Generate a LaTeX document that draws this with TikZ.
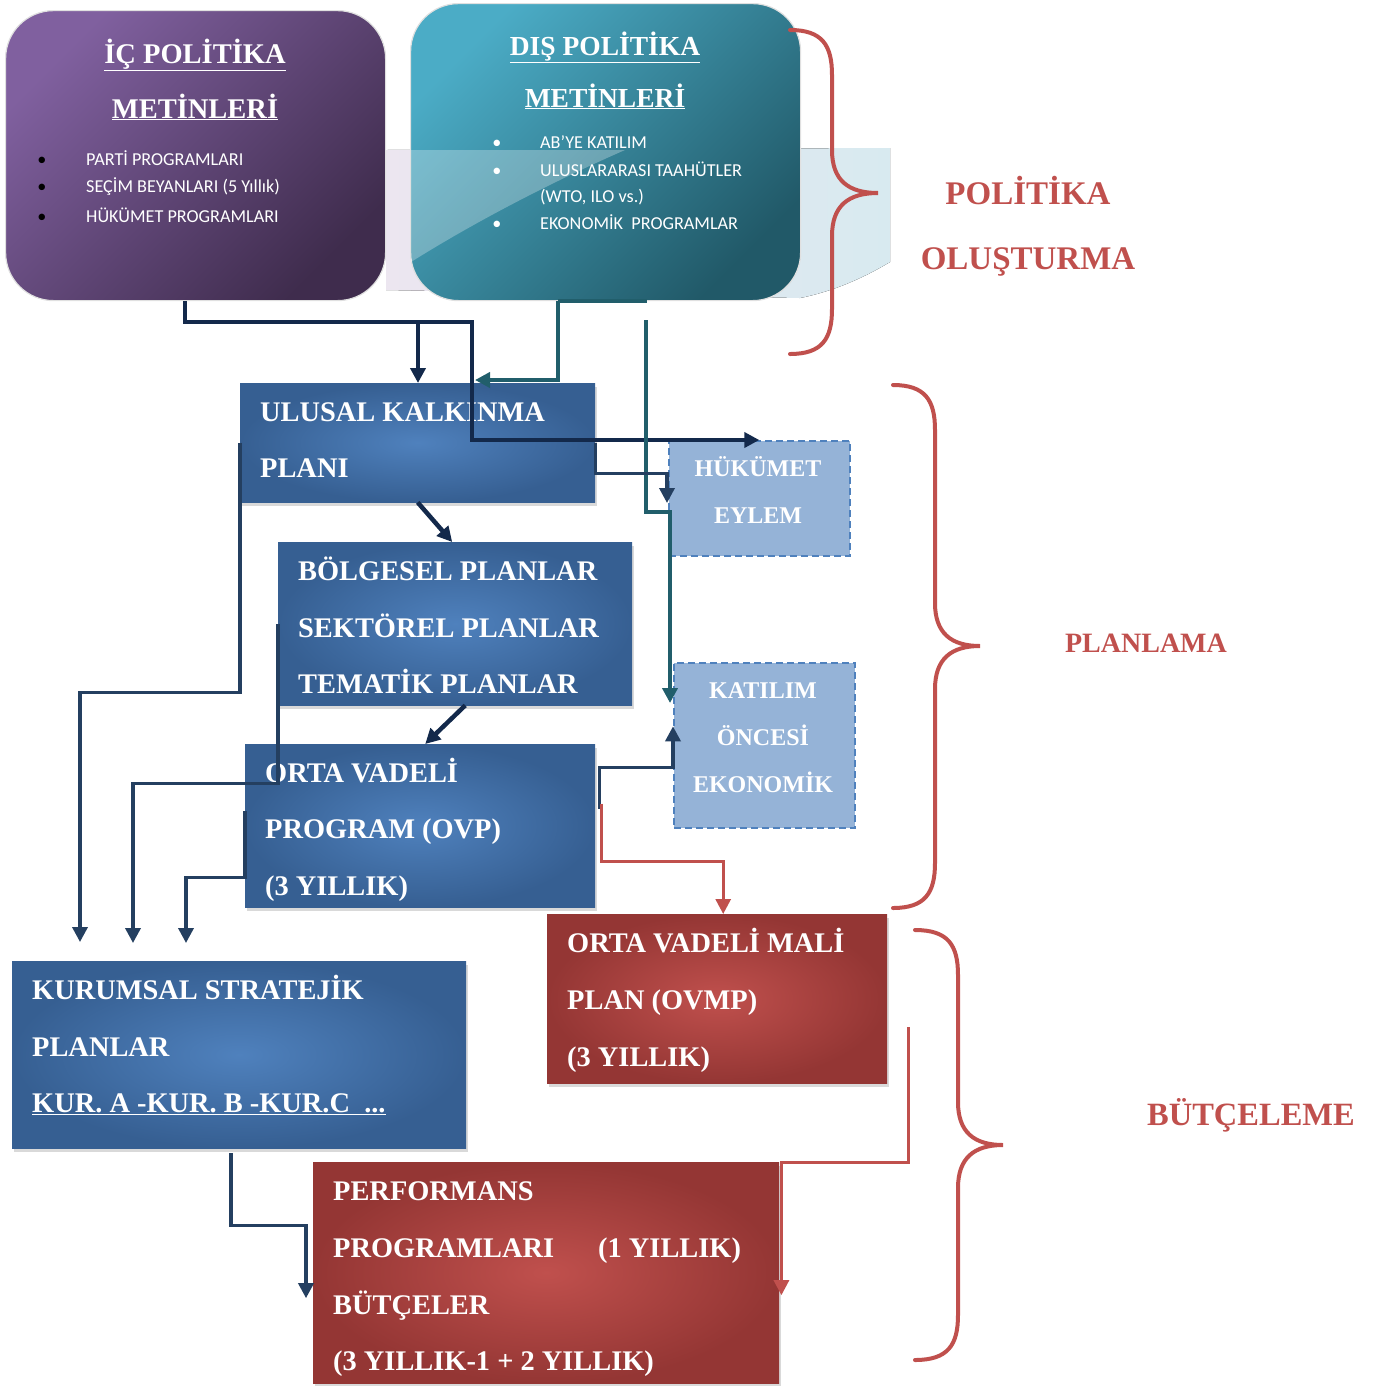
\documentclass[tikz,border=0pt]{standalone}
\usepackage{fontspec}
\setmainfont{Liberation Serif}
\newfontfamily\listfont{Carlito}
\usetikzlibrary{arrows.meta,shadows}

\definecolor{darknavy}{HTML}{13294B}
\definecolor{navy}{HTML}{243F60}
\definecolor{tealline}{HTML}{215E6B}
\definecolor{redline}{HTML}{C0504D}
\definecolor{blueedge}{HTML}{365F92}
\definecolor{bluecentre}{HTML}{4F81BD}
\definecolor{rededge}{HTML}{943634}
\definecolor{redcentre}{HTML}{C0504D}
\definecolor{notefill}{HTML}{95B3D7}
\definecolor{noteline}{HTML}{4F81BD}
\definecolor{purplelight}{HTML}{80609F}
\definecolor{purpledark}{HTML}{3F2C4D}
\definecolor{teallight}{HTML}{4BACC6}
\definecolor{tealdark}{HTML}{215968}
\definecolor{bandlav}{HTML}{ECE6F0}
\definecolor{bandblue}{HTML}{D8EAF0}

\tikzset{
  box/.style={rectangle,inner sep=0pt,anchor=north west,
    drop shadow={opacity=.3,shadow xshift=2pt,shadow yshift=-4pt}},
  bluebox/.style={box,inner color=bluecentre,outer color=blueedge},
  redbox/.style={box,inner color=redcentre,outer color=rededge},
  notebox/.style={rectangle,inner sep=0pt,anchor=north west,fill=notefill,
    draw=noteline,line width=1.6pt,dash pattern=on 7pt off 4pt},
  roundbox/.style={rectangle,inner sep=0pt,anchor=north west,rounded corners=48pt,
    draw=white!88!black,line width=1.2pt},
  boxtext/.style={anchor=base west,inner sep=0pt,text=white,
    font=\fontsize{28.4}{28.4}\selectfont\bfseries},
  notetext/.style={anchor=base,inner sep=0pt,text=white,
    font=\fontsize{24}{24}\selectfont\bfseries},
  headtext/.style={anchor=base,inner sep=0pt,text=white,
    font=\fontsize{27.5}{27.5}\selectfont\bfseries},
  listtext/.style={anchor=base west,inner sep=0pt,text=white,
    font=\listfont\fontsize{18.2}{18.2}\selectfont},
  stagetext/.style={anchor=base,inner sep=0pt,text=redline,
    font=\fontsize{33}{33}\selectfont\bfseries},
  arrowed/.style={-{Triangle[width=15pt,length=15pt]}},
  mainline/.style={draw=darknavy,line width=4.5pt},
  subline/.style={draw=navy,line width=3.5pt},
  extline/.style={draw=tealline,line width=4pt},
  budgetline/.style={draw=redline,line width=3pt},
  bracket/.style={draw=redline,line width=4pt,line cap=round}
}

\begin{document}
\begin{tikzpicture}[x=1pt,y=-1pt]
  \useasboundingbox (0,0) rectangle (1389,1385);

  % light band behind the policy boxes
  \fill[left color=bandlav,right color=bandblue] (386,150) -- (890,148) -- (890,262)
    .. controls (860,280) and (830,292) .. (800,298) -- (386,290) -- cycle;

  % policy texts
  \node[roundbox,top color=purplelight,bottom color=purpledark,shading angle=45,
    minimum width=380pt,minimum height=290pt] (ic) at (5,10) {};
  \node[roundbox,top color=teallight,bottom color=tealdark,shading angle=45,
    minimum width=390pt,minimum height=297pt] (dis) at (410,3) {};

  \node[headtext,font=\fontsize{28.5}{28.5}\selectfont\bfseries] (ictitle) at (195,63) {\underline{İÇ POLİTİKA}};
  \node[headtext,font=\fontsize{28.5}{28.5}\selectfont\bfseries] (ictitle2) at (195,118) {\underline{METİNLERİ}};
  \foreach \y/\t [count=\i] in {165/PARTİ PROGRAMLARI,192/SEÇİM BEYANLARI (5 Yıllık),222/HÜKÜMET PROGRAMLARI}{
    \node[listtext,text=black,anchor=base] (icdot\i) at (42,\y) {•};
    \node[listtext] (icitem\i) at (86,\y) {\t};
  }

  \node[headtext] (distitle) at (605,55) {\underline{DIŞ POLİTİKA}};
  \node[headtext] (distitle2) at (605,107) {\underline{METİNLERİ}};
  \foreach \y/\t [count=\i] in {148/AB’YE KATILIM,176/ULUSLARARASI TAAHÜTLER,229/EKONOMİK\ \ PROGRAMLAR}{
    \node[listtext,anchor=base] (disdot\i) at (497,\y) {•};
    \node[listtext] (disitem\i) at (540,\y) {\t};
  }
  \node[listtext] (disitem4) at (540,202) {(WTO, ILO vs.)};
  \fill[white,opacity=.28] (411,150) -- (625,150) .. controls (545,185) and (470,225) .. (411,262) -- cycle;

  % plan and budget boxes
  \node[bluebox,minimum width=355pt,minimum height=119pt] (ukp) at (240,383) {};
  \node[bluebox,minimum width=354pt,minimum height=163pt] (bolg) at (278,542) {};
  \node[bluebox,minimum width=350pt,minimum height=163pt] (ovp) at (245,744) {};
  \node[bluebox,minimum width=454pt,minimum height=187pt] (ksp) at (12,961) {};
  \node[redbox,minimum width=340pt,minimum height=169pt] (ovmp) at (547,914) {};
  \node[redbox,minimum width=466pt,minimum height=221pt] (perf) at (313,1162) {};
  \node[notebox,minimum width=181pt,minimum height=115pt] (hk) at (668,440) {};
  \node[notebox,minimum width=181pt,minimum height=165pt] (ka) at (673,662) {};

  \node[boxtext] (ukp1) at (260,421) {ULUSAL KALKINMA};
  \node[boxtext] (ukp2) at (260,477) {PLANI};
  \node[boxtext] (bolg1) at (298,580) {BÖLGESEL PLANLAR};
  \node[boxtext] (bolg2) at (298,637) {SEKTÖREL PLANLAR};
  \node[boxtext] (bolg3) at (298,693) {TEMATİK PLANLAR};
  \node[boxtext] (ovp1) at (265,782) {ORTA VADELİ};
  \node[boxtext] (ovp2) at (265,838) {PROGRAM (OVP)};
  \node[boxtext] (ovp3) at (265,895) {(3 YILLIK)};
  \node[boxtext] (ksp1) at (32,999) {KURUMSAL STRATEJİK};
  \node[boxtext] (ksp2) at (32,1056) {PLANLAR};
  \node[boxtext] (ksp3) at (32,1112) {\underline{KUR. A -KUR. B -KUR.C\ \ ...}};
  \node[boxtext] (ovmp1) at (567,952) {ORTA VADELİ MALİ};
  \node[boxtext] (ovmp2) at (567,1009) {PLAN (OVMP)};
  \node[boxtext] (ovmp3) at (567,1066) {(3 YILLIK)};
  \node[boxtext] (perf1) at (333,1200) {PERFORMANS};
  \node[boxtext] (perf2) at (333,1257) {PROGRAMLARI};
  \node[boxtext] (perf2b) at (598,1257) {(1 YILLIK)};
  \node[boxtext] (perf3) at (333,1314) {BÜTÇELER};
  \node[boxtext] (perf4) at (333,1370) {(3 YILLIK-1 + 2 YILLIK)};
  \node[notetext] (hk1) at (758,476) {HÜKÜMET};
  \node[notetext] (hk2) at (758,523) {EYLEM};
  \node[notetext] (ka1) at (763,698) {KATILIM};
  \node[notetext] (ka2) at (763,745) {ÖNCESİ};
  \node[notetext] (ka3) at (763,792) {EKONOMİK};

  % connectors
  \coordinate (icturn) at (185,322);
  \coordinate (ukturn) at (472,322);
  \coordinate (ukdrop) at (418,322);
  \coordinate (disturn) at (558,380);
  \coordinate (disend) at (475,380);
  \coordinate (disbar) at (647,302);
  \coordinate (distop) at (646,320);
  \coordinate (disturn2) at (646,512);
  \coordinate (kaend) at (670,703);
  \coordinate (hkend) at (667,503);
  \coordinate (kspin1) at (80,942);
  \coordinate (kspin2) at (133,943);
  \coordinate (kspin3) at (186,943);

  \draw[mainline,arrowed] (icturn |- ic.south) -- (icturn) -- (ukturn) |- (hk.north);
  \draw[mainline,arrowed] (ukdrop) -- (ukdrop |- ukp.north);
  \draw[extline] (disturn |- dis.south) -- (disbar |- dis.south);
  \draw[extline,arrowed] (disturn |- dis.south) -- (disturn) -- (disend);
  \draw[extline,arrowed] (distop) -- (disturn2) -| (kaend);
  \draw[subline,arrowed] (ukp.east) -- ++(0,31) -| (hkend);
  \draw[mainline,arrowed] (ukp.south) -- ([xshift=-3pt]bolg.north);
  \draw[mainline,arrowed] ([xshift=10pt]bolg.south) -- ([xshift=5pt]ovp.north);
  \draw[subline,arrowed] (ukp.west) -- ++(0,250) -| (kspin1);
  \draw[subline,arrowed] (bolg.west) -- ++(0,160) -| (kspin2);
  \draw[subline,arrowed] ([yshift=15pt]ovp.west) -- ++(0,67) -| (kspin3);
  \draw[subline,arrowed] ([xshift=4pt,yshift=17pt]ovp.east) -- ++(0,-41) -| ([yshift=19pt]ka.west);
  \draw[budgetline,arrowed] ([xshift=6pt,yshift=22pt]ovp.east) -- ++(0,58) -| ([xshift=6pt]ovmp.north);
  \draw[budgetline,arrowed] ([xshift=21pt,yshift=-28.5pt]ovmp.east) -- ++(0,135) -| ([xshift=2pt,yshift=-22.5pt]perf.east);
  \draw[subline,arrowed] ([xshift=-8pt,yshift=-5pt]ksp.south) -- ++(0,72) -| ([xshift=-7pt,yshift=-25.5pt]perf.west);

  % stage braces
  \draw[bracket] (790,30) .. controls (822,30) and (832,45) .. (832,75) -- (832,150)
    .. controls (832,180) and (848,193) .. (878,193)
    .. controls (848,193) and (832,206) .. (832,236) -- (832,309)
    .. controls (832,339) and (822,354) .. (790,354);
  \draw[bracket] (893,385) .. controls (925,385) and (935,400) .. (935,430) -- (935,603)
    .. controls (935,633) and (951,646) .. (980,646)
    .. controls (951,646) and (935,659) .. (935,689) -- (935,863)
    .. controls (935,893) and (925,908) .. (893,908);
  \draw[bracket] (915,930) .. controls (948,930) and (958,945) .. (958,975) -- (958,1102)
    .. controls (958,1132) and (974,1145) .. (1003,1145)
    .. controls (974,1145) and (958,1158) .. (958,1188) -- (958,1315)
    .. controls (958,1345) and (948,1360) .. (915,1360);

  \node[stagetext] (stage1) at (1028,204) {POLİTİKA};
  \node[stagetext] (stage1b) at (1028,269) {OLUŞTURMA};
  \node[stagetext,font=\fontsize{28}{28}\selectfont\bfseries] (stage2) at (1146,652) {PLANLAMA};
  \node[stagetext,font=\fontsize{32.5}{32.5}\selectfont\bfseries] (stage3) at (1251,1125) {BÜTÇELEME};
\end{tikzpicture}
\end{document}
